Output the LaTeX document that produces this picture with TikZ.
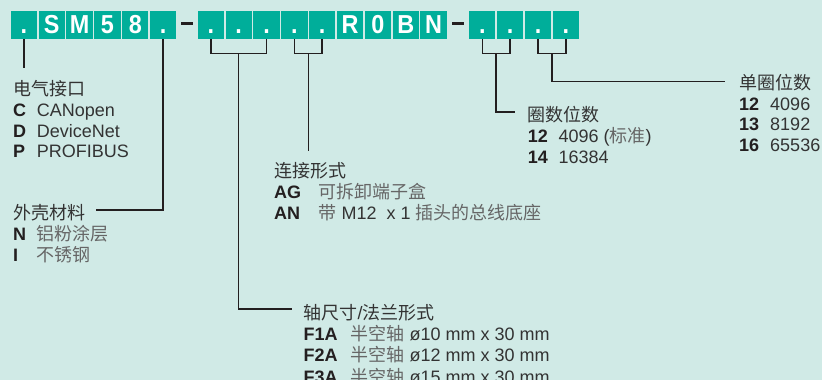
\documentclass[tikz,border=0pt]{standalone}
\usepackage{fontspec}
\setmainfont{Liberation Sans}
\newfontfamily\zhfont{Noto Sans CJK SC}
\newfontfamily\boxfont{Liberation Sans}[FakeStretch=0.9]
\usetikzlibrary{calc}
\definecolor{backdrop}{HTML}{D0EAE6}
\definecolor{codeteal}{HTML}{00AE9A}
\definecolor{ink}{HTML}{231F20}
\definecolor{body}{HTML}{333333}
\definecolor{hanzi}{HTML}{666666}
\tikzset{
  digit/.style={fill=codeteal, draw=none, minimum width=26.3pt, minimum height=28pt,
                inner sep=0pt, text=white, text height=16.6pt, text depth=0pt,
                font=\boxfont\bfseries\fontsize{26}{26}\selectfont},
  hyphen/.style={fill=ink, draw=none, minimum width=12.5pt, minimum height=2.4pt,
                 inner sep=0pt},
  link/.style={draw=ink, line width=1.5pt},
  % headings in Chinese, lists as two-column tables on the same baseline grid
  title/.style={anchor=base west, inner sep=0pt, text=body,
                font=\zhfont\fontsize{18}{18}\selectfont},
  items/.style={anchor=base west, inner sep=0pt, text=body,
                font=\fontsize{18}{20.7}\selectfont},
}
\newcommand{\zh}[1]{{\zhfont\color{hanzi}#1}}
\newcommand{\code}[1]{{\bfseries\color{ink}#1}}
\newcommand{\codelist}[2]{\begin{tabular}[t]{@{}l@{\hspace{#1}}l@{}}#2\end{tabular}}

\begin{document}
\begin{tikzpicture}[x=1pt, y=-1pt]
  \useasboundingbox[fill=backdrop] (0,0) rectangle (822,380);
  \def\pitch{27.85}
  \def\row{20.7}

  % --- type code, three groups of digit boxes ------------------------------
  \foreach \ch [count=\i] in {.,S,M,5,8,.}
    {\node[digit] (m\i) at ({23.9+\pitch*(\i-1)},25) {\ch};}
  \foreach \ch [count=\i] in {.,.,.,.,.,R,0,B,N}
    {\node[digit] (o\i) at ({210.8+\pitch*(\i-1)},25) {\ch};}
  \foreach \ch [count=\i] in {.,.,.,.}
    {\node[digit] (r\i) at ({482.3+\pitch*(\i-1)},25) {\ch};}
  \node[hyphen] (dash1) at ($($(m6.east)!0.5!(o1.west)$)+(0,-1.7)$) {};
  \node[hyphen] (dash2) at ($($(o9.east)!0.5!(r1.west)$)+(0,-1.7)$) {};

  % --- option blocks ---------------------------------------------------------
  \node[title] (iface) at (13,95.8) {电气接口};
  \node[items] (ifacelist) at ($(iface.base west)+(0,\row)$)
    {\codelist{10.7pt}{\code{C} & CANopen\\ \code{D} & DeviceNet\\ \code{P} & PROFIBUS}};

  \node[title] (housing) at (13,219.5) {外壳材料};
  \node[items] (housinglist) at ($(housing.base west)+(0,\row)$)
    {\codelist{10.7pt}{\code{N} & \zh{铝粉涂层}\\ \code{I} & \zh{不锈钢}}};

  \node[title] (conn) at (274,177.5) {连接形式};
  \node[items] (connlist) at ($(conn.base west)+(0,\row)$)
    {\codelist{17.5pt}{\code{AG} & \zh{可拆卸端子盒}\\
      \code{AN} & \zh{带} M12\ \ x 1 \zh{插头的总线底座}}};

  \node[title] (shaft) at (303.3,319.5) {轴尺寸{\fontspec{Liberation Sans}/}法兰形式};
  \node[items] (shaftlist) at ($(shaft.base west)+(0,\row)$)
    {\codelist{13pt}{\code{F1A} & \zh{半空轴} ø10 mm x 30 mm\\
      \code{F2A} & \zh{半空轴} ø12 mm x 30 mm\\
      \code{F3A} & \zh{半空轴} ø15 mm x 30 mm}};

  \node[title] (turns) at (527.7,121.8) {圈数位数};
  \node[items] (turnslist) at ($(turns.base west)+(0,\row)$)
    {\codelist{10.6pt}{\code{12} & 4096 (\zh{标准})\\ \code{14} & 16384}};

  \node[title] (single) at (739,89.5) {单圈位数};
  \node[items] (singlelist) at ($(single.base west)+(0,\row)$)
    {\codelist{11pt}{\code{12} & 4096\\ \code{13} & 8192\\ \code{16} & 65536}};

  % --- brackets under the digit groups --------------------------------------
  \coordinate (rail) at (0,53.3);
  \draw[link] (o1.south) |- (o3.south |- rail) -- (o3.south);
  \draw[link] (o4.south) |- (o5.south |- rail) -- (o5.south);
  \draw[link] (r1.south) |- (r2.south |- rail) -- (r2.south);
  \draw[link] (r3.south) |- (r4.south |- rail) -- (r4.south);
  \coordinate (connfork)   at ($(o4.south |- rail)!0.5!(o5.south |- rail)$);
  \coordinate (turnsfork)  at ($(r1.south |- rail)!0.5!(r2.south |- rail)$);
  \coordinate (singlefork) at ($(r3.south |- rail)!0.5!(r4.south |- rail)$);

  % --- leaders from the code to each block ----------------------------------
  \draw[link] (m1.south) -- ($(m1.south |- iface.north)+(0,-12.5)$);
  \draw[link] (m6.south) |- ($(housing.base west)+(83,-9.5)$);
  \draw[link] (o2.south |- rail) |- ($(shaft.base west)+(-11.5,-10.5)$);
  \draw[link] (connfork) -- ($(connfork |- conn.north)+(0,-11.5)$);
  \draw[link] (turnsfork) |- ($(turns.base west)+(-12.5,-9.8)$);
  \draw[link] (singlefork) |- ($(single.base west)+(-14,-7.8)$);
\end{tikzpicture}
\end{document}
